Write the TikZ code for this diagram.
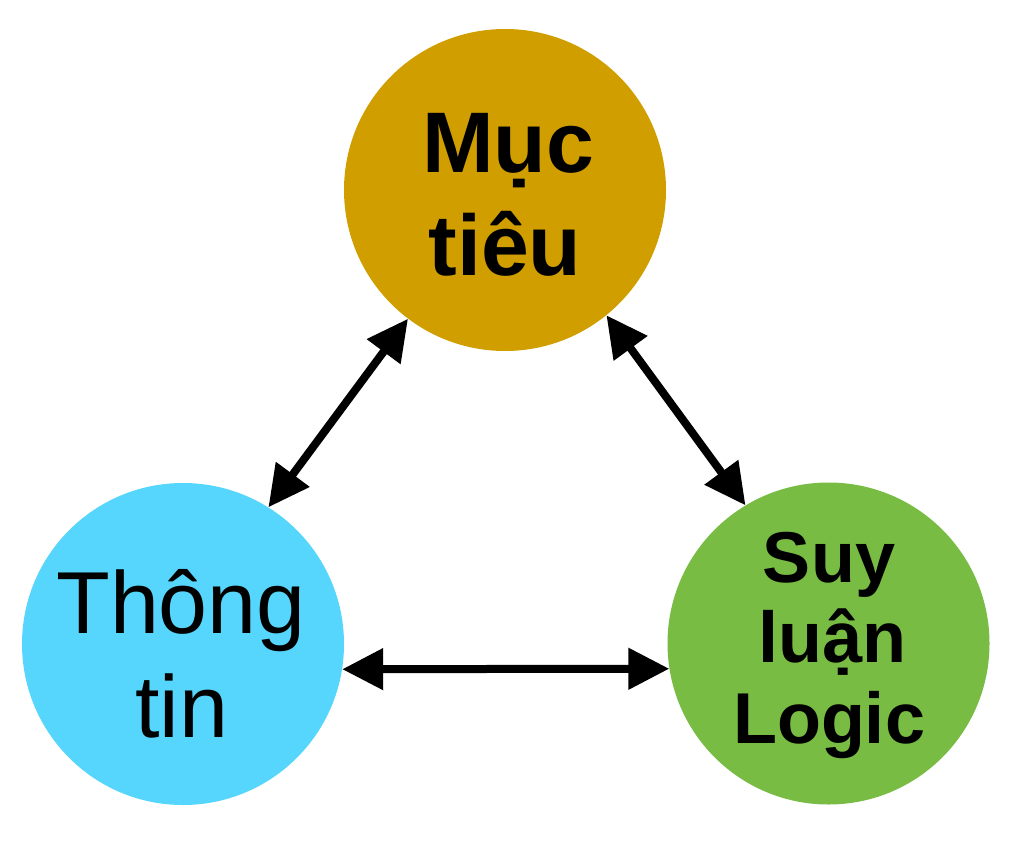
\documentclass[tikz,border=0pt]{standalone}
\usepackage{fontspec}
\setmainfont{Liberation Sans}
\usetikzlibrary{arrows.meta}
\definecolor{goldc}{RGB}{209,158,0}
\definecolor{bluec}{RGB}{86,214,252}
\definecolor{greenc}{RGB}{120,188,68}
\tikzset{
  blob/.style={circle, minimum size=322pt, inner sep=0pt, draw=none},
  bigb/.style={anchor=base, inner sep=0pt, font=\fontsize{86}{100}\selectfont\bfseries},
  bigr/.style={anchor=base, inner sep=0pt, font=\fontsize{88}{100}\selectfont},
  midb/.style={anchor=base, inner sep=0pt, font=\fontsize{72}{84}\selectfont\bfseries},
  link/.style={line width=8pt, {Triangle[length=41pt,width=40pt]}-{Triangle[length=41pt,width=40pt]}}
}
\begin{document}
\begin{tikzpicture}[x=1pt,y=-1pt]
\useasboundingbox (0,0) rectangle (1024,861);
\node[blob, fill=goldc] (goal) at (505,190) {};
\node[blob, fill=bluec] (info) at (183,644) {};
\node[blob, fill=greenc] (logic) at (828.5,643.5) {};
\node[bigb] (g1) at (508,172) {Mục};
\node[bigb] (g2) at (505,275) {tiêu};
\node[bigr] (i1) at (181,633) {Thông};
\node[bigr] (i2) at (182,737) {tin};
\node[midb] (l1) at (829,582) {Suy};
\node[midb] (l2) at (832,662) {luận};
\node[midb] (l3) at (829,743) {Logic};
\draw[link] (info.58) -- (goal.233);
\draw[link] (goal.-51) -- (logic.121);
\draw[link] (info.-9) -- (logic.189);
\end{tikzpicture}
\end{document}
